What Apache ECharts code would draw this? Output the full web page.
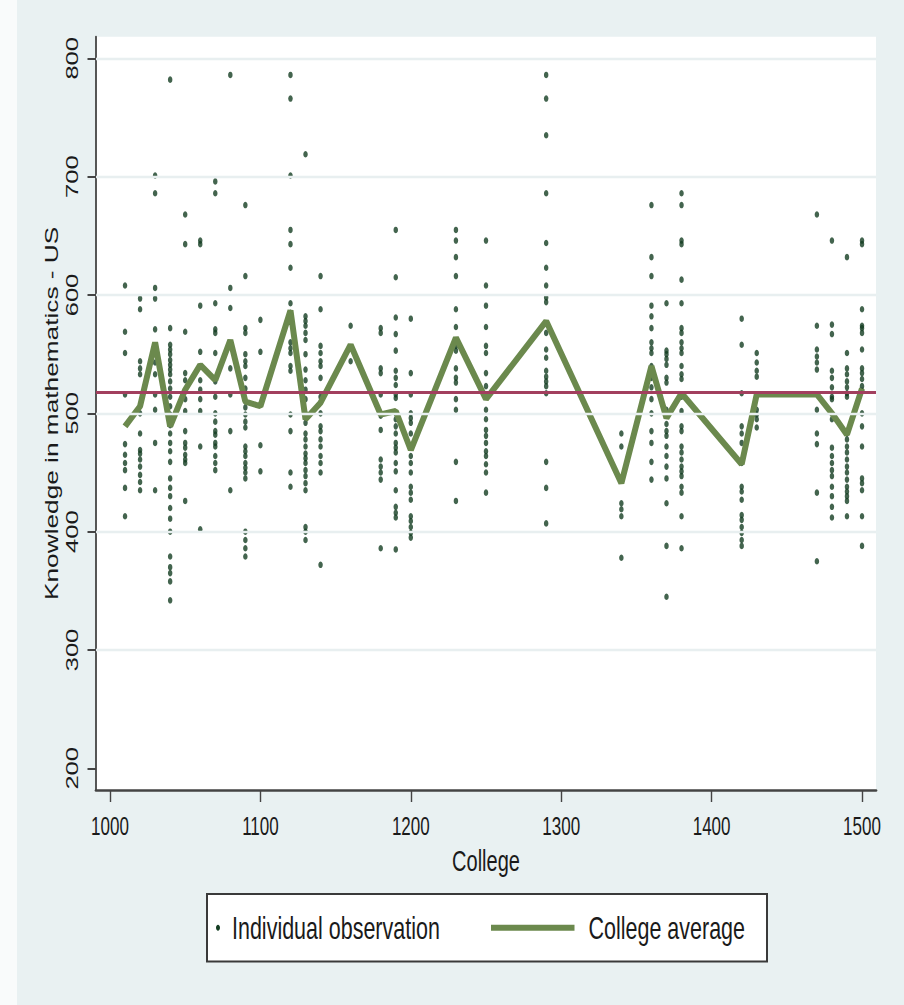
<!DOCTYPE html>
<html>
<head>
<meta charset="utf-8">
<title>Knowledge in mathematics by college</title>
<script src="https://cdn.jsdelivr.net/npm/echarts@6/dist/echarts.min.js"></script>
<style>
  html, body { margin: 0; padding: 0; background: #e9f1f2; overflow: hidden; }
  #chart { width: 904px; height: 1005px; }
</style>
</head>
<body>
<div id="chart"></div>
<script>
// College identifiers (x positions)
const colleges = [1010, 1020, 1030, 1040, 1050, 1060, 1070, 1080, 1090, 1100,
                  1120, 1130, 1140, 1160, 1180, 1190, 1200, 1230, 1250, 1290,
                  1340, 1360, 1370, 1380, 1420, 1430, 1470, 1480, 1490, 1500];

// Individual student scores, one list per college (same order as colleges)
const observations = [
  [608, 569, 551, 516, 474, 465, 458, 452, 437, 413],
  [597, 588, 544, 538, 533, 500, 483, 469, 466, 461, 455, 448, 442, 435],
  [701, 686, 606, 597, 571, 557, 543, 533, 516, 503, 475, 435],
  [782, 572, 558, 554, 550, 545, 541, 537, 533, 527, 521, 514, 506, 499, 490, 483, 475, 468, 459, 445, 437, 430, 420, 411, 400, 379, 370, 365, 358, 342],
  [668, 643, 569, 534, 528, 519, 512, 502, 485, 475, 471, 465, 461, 458, 426],
  [646, 643, 591, 552, 540, 528, 520, 512, 502, 472, 402],
  [696, 686, 593, 571, 568, 551, 527, 514, 500, 493, 485, 482, 475, 472, 464, 458, 452],
  [786, 606, 589, 559, 538, 516, 485, 435],
  [676, 616, 572, 568, 550, 544, 540, 530, 521, 510, 505, 499, 493, 488, 472, 468, 464, 458, 454, 450, 445, 400, 393, 386, 379],
  [579, 552, 473, 451],
  [786, 766, 701, 655, 643, 623, 593, 585, 577, 560, 555, 551, 540, 536, 499, 485, 450, 438],
  [719, 582, 578, 574, 568, 562, 550, 537, 528, 520, 512, 500, 492, 483, 478, 472, 466, 462, 458, 452, 447, 441, 435, 404, 400, 393],
  [616, 588, 557, 551, 544, 540, 530, 514, 500, 489, 485, 478, 472, 464, 458, 450, 372],
  [574, 544],
  [572, 568, 538, 534, 516, 498, 486, 461, 455, 450, 444, 386],
  [655, 615, 581, 567, 553, 536, 530, 524, 516, 513, 500, 495, 489, 483, 475, 471, 467, 458, 451, 435, 421, 416, 412, 385],
  [580, 534, 516, 500, 496, 492, 483, 472, 464, 458, 450, 438, 433, 427, 413, 409, 404, 399, 395],
  [655, 646, 632, 616, 588, 573, 557, 553, 538, 530, 526, 512, 503, 459, 426],
  [646, 608, 591, 573, 557, 551, 534, 523, 514, 503, 495, 486, 481, 475, 468, 464, 457, 450, 433],
  [786, 766, 735, 686, 644, 623, 608, 598, 594, 568, 554, 547, 536, 531, 527, 523, 517, 459, 437, 407],
  [483, 472, 424, 419, 413, 378],
  [676, 632, 616, 591, 582, 572, 560, 555, 551, 540, 530, 522, 512, 500, 485, 475, 459, 444],
  [593, 553, 550, 546, 541, 530, 526, 503, 491, 485, 481, 472, 464, 455, 445, 424, 388, 345],
  [686, 676, 646, 643, 613, 593, 572, 568, 560, 555, 551, 540, 533, 529, 514, 502, 489, 485, 472, 467, 461, 455, 451, 447, 438, 433, 413, 386],
  [580, 558, 517, 489, 483, 475, 458, 438, 434, 427, 414, 410, 404, 399, 393, 388],
  [551, 543, 536, 531, 503, 499, 495, 488],
  [668, 574, 554, 548, 543, 537, 503, 483, 474, 433, 375],
  [646, 575, 567, 536, 530, 522, 514, 512, 495, 471, 464, 458, 452, 447, 438, 430, 421, 412],
  [632, 551, 538, 533, 527, 522, 517, 514, 483, 478, 472, 467, 461, 455, 450, 444, 438, 434, 430, 426, 413],
  [646, 643, 588, 574, 572, 568, 554, 538, 534, 529, 523, 519, 500, 489, 472, 445, 441, 435, 413, 388]
];

// Mean score of each college
const collegeAverage = [489, 506, 560, 489, 520, 541, 528, 562, 510, 506,
                        587, 495, 509, 558, 499, 502, 469, 564, 512, 578,
                        441, 540, 496, 517, 457, 516, 516, 500, 482, 521];

// Overall mean across all students
const overallMean = 518;

// Axis ticks and grid lines
const xTicks = [1000, 1100, 1200, 1300, 1400, 1500];
const yTicks = [200, 300, 400, 500, 600, 700, 800];
const yGridLines = [300, 400, 500, 600, 700, 800];

// Text and legend labels
const xTitle = 'College';
const yTitle = 'Knowledge in mathematics - US';
const legendLabels = ['Individual observation', 'College average'];

const FONT = "'Liberation Sans', Arial, Helvetica, sans-serif";
const INK = '#1a1a1a';
const AXIS = '#444444';
const DOT = '#143d22';
const AVG = '#6b894d';
const MEAN = '#a23f5e';
// All lettering in this graph is drawn tall and narrow
const STRETCH = 1.5;

const scatterData = colleges.flatMap((c, i) => observations[i].map(v => [c, v]));
const averageData = colleges.map((c, i) => [c, collegeAverage[i]]);

const chart = echarts.init(document.getElementById('chart'), null, { renderer: 'svg' });

chart.setOption({
  backgroundColor: '#e9f1f2',
  animation: false,
  textStyle: { fontFamily: FONT },
  grid: {
    left: 96, right: 28, top: 36.7, bottom: 215,
    show: true, backgroundColor: '#ffffff', borderWidth: 0
  },
  xAxis: {
    type: 'value',
    min: 990.7, max: 1509.3,
    axisLine: { show: true, onZero: false, lineStyle: { color: AXIS, width: 2.7 } },
    axisTick: { show: true, length: 12, customValues: xTicks, lineStyle: { color: AXIS, width: 1.4 } },
    axisLabel: { show: false },
    splitLine: { show: false }
  },
  yAxis: {
    type: 'value',
    min: 181.7, max: 818.3,
    axisLine: { show: true, onZero: false, lineStyle: { color: AXIS, width: 1.8 } },
    axisTick: { show: true, length: 8.5, customValues: yTicks, lineStyle: { color: AXIS, width: 2 } },
    axisLabel: { show: false },
    splitLine: { show: false }
  },
  series: [
    {
      // horizontal grid lines behind the marks
      name: 'grid', type: 'line', data: [], z: 1, silent: true,
      markLine: {
        silent: true, symbol: 'none', animation: false,
        label: { show: false },
        lineStyle: { color: '#e8eff0', width: 2.4, type: 'solid' },
        data: yGridLines.map(v => ({ yAxis: v }))
      }
    },
    {
      name: legendLabels[0],
      type: 'scatter',
      data: scatterData,
      symbol: 'circle',
      symbolSize: [4.5, 6.5],
      itemStyle: { color: DOT },
      z: 2
    },
    {
      // overall mean reference line
      name: 'mean', type: 'line', data: [], z: 3, silent: true,
      markLine: {
        silent: true, symbol: 'none', animation: false,
        label: { show: false },
        lineStyle: { color: MEAN, width: 3, type: 'solid' },
        data: [{ yAxis: overallMean }]
      }
    },
    {
      name: legendLabels[1],
      type: 'line',
      data: averageData,
      showSymbol: false,
      symbol: 'none',
      lineStyle: { color: AVG, width: 6 },
      itemStyle: { color: AVG },
      z: 4
    }
  ]
});

// Tall lettering: text elements stretched vertically, placed from the axis scales
function label(text, x, y, size, opts) {
  opts = opts || {};
  const vertical = !!opts.vertical;
  return {
    type: 'text',
    x: x, y: y,
    rotation: vertical ? Math.PI / 2 : 0,
    scaleX: vertical ? STRETCH : 1,
    scaleY: vertical ? 1 : STRETCH,
    z: 10,
    silent: true,
    style: {
      text: text,
      fontSize: size,
      fontFamily: FONT,
      fill: INK,
      align: opts.align || 'center',
      verticalAlign: 'middle'
    }
  };
}

const gridRect = chart.getModel().getComponent('grid', 0).coordinateSystem.getRect();
const xPix = v => chart.convertToPixel({ xAxisIndex: 0 }, v);
const yPix = v => chart.convertToPixel({ yAxisIndex: 0 }, v);

const axisBottom = gridRect.y + gridRect.height;
const graphics = [];

// thin pale margin along the left edge of the figure
graphics.push({
  type: 'rect', z: 0, silent: true,
  shape: { x: 0, y: 0, width: 17, height: 1005 },
  style: { fill: '#f9fbfb' }
});

xTicks.forEach(v => graphics.push(label(String(v), xPix(v), axisBottom + 36, 17)));
yTicks.forEach(v => graphics.push(label(String(v), gridRect.x - 24, yPix(v), 17, { vertical: true })));
graphics.push(label(xTitle, gridRect.x + gridRect.width / 2, axisBottom + 70, 20));
graphics.push(label(yTitle, gridRect.x - 44, gridRect.y + gridRect.height / 2, 17.5, { vertical: true }));

// Legend box below the plot
const box = { x: 207, y: 894, w: 560, h: 67.5 };
const legendMid = box.y + box.h / 2;
graphics.push({
  type: 'rect', z: 5, silent: true,
  shape: { x: box.x, y: box.y, width: box.w, height: box.h },
  style: { fill: '#ffffff', stroke: '#3a3a3a', lineWidth: 2 }
});
graphics.push({
  type: 'ellipse', z: 6, silent: true,
  shape: { cx: 218, cy: legendMid, rx: 2, ry: 3 },
  style: { fill: DOT }
});
graphics.push(label(legendLabels[0], 232, legendMid, 21.5, { align: 'left' }));
graphics.push({
  type: 'rect', z: 6, silent: true,
  shape: { x: 491, y: legendMid - 3, width: 83.5, height: 6 },
  style: { fill: AVG }
});
graphics.push(label(legendLabels[1], 588.5, legendMid, 21.5, { align: 'left' }));

chart.setOption({ graphic: graphics });
</script>
</body>
</html>
